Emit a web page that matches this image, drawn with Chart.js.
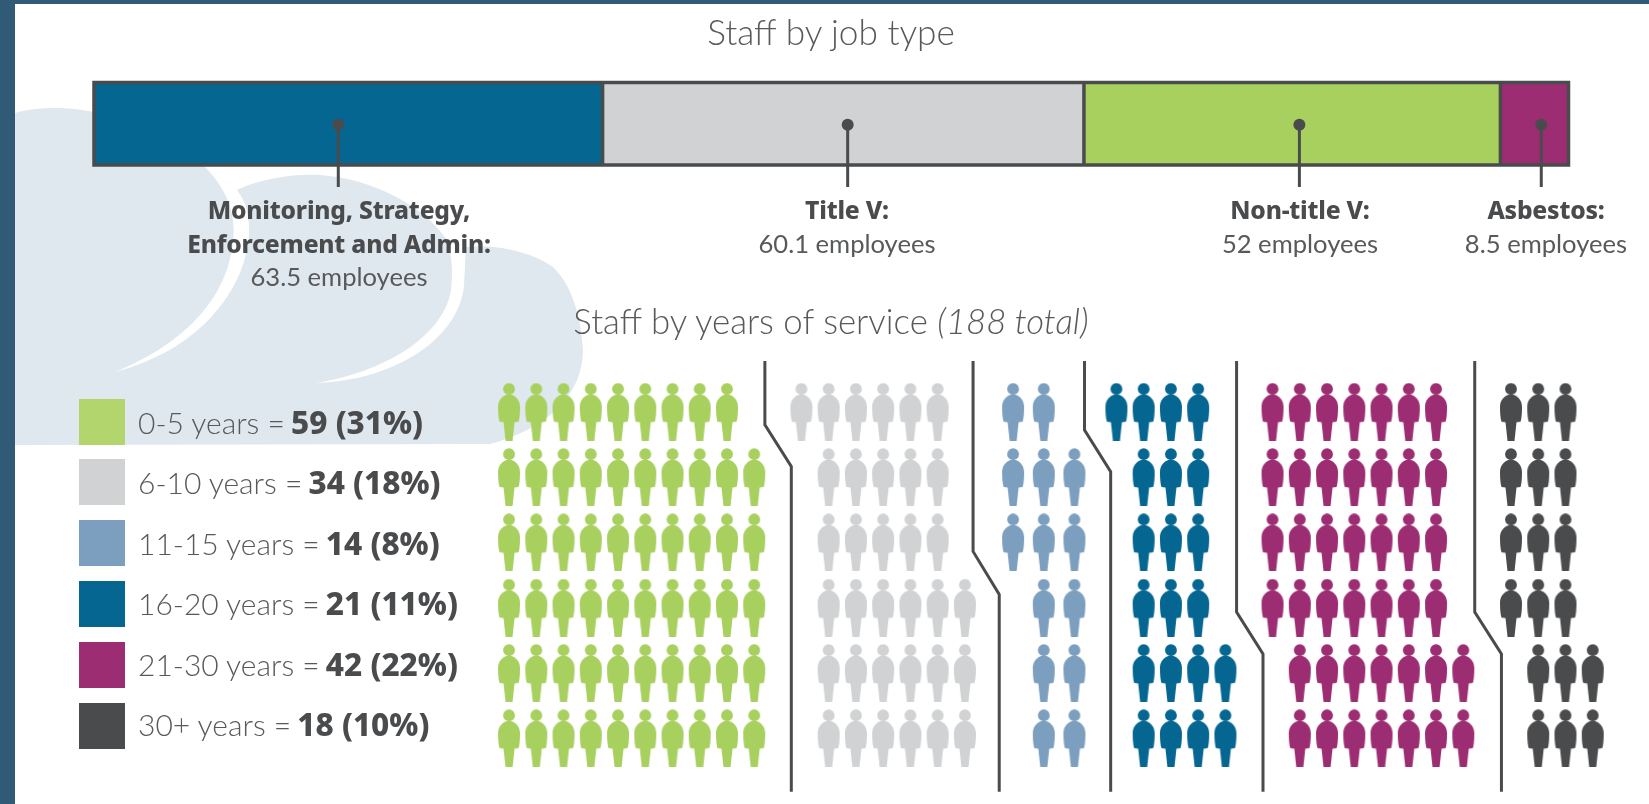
<!DOCTYPE html>
<html lang="en">
<head>
    <meta charset="UTF-8">
    <title>Staff by job type and years of service</title>
    <script src="https://cdn.jsdelivr.net/npm/chart.js"></script>
    <style>
        html, body { margin: 0; padding: 0; background: #305a75; overflow: hidden; }
        #page { position: absolute; left: 15px; top: 4px; width: 1634px; height: 800px; background: #fff; }
        #stage { position: absolute; left: 0; top: 0; width: 1649px; height: 804px; font-family: Lato, sans-serif; color: #58595b; filter: blur(0.4px); }
        #stage svg, #stage canvas { position: absolute; left: 0; top: 0; }
        .title { position: absolute; left: 0; width: 1662px; text-align: center; font-size: 35.2px; font-weight: 300; line-height: 40px; white-space: nowrap; }
        .job { position: absolute; transform: translateX(-50%); text-align: center; font-size: 25.6px; line-height: 33.5px; white-space: nowrap; }
        .job b { color: #4a4b4d; font-family: "Noto Sans", sans-serif; font-weight: 800; font-size: 24.6px; display: block; letter-spacing: -0.2px; }
        .swatch { position: absolute; left: 79px; width: 46px; height: 46px; }
        .legend-text { position: absolute; left: 138px; font-size: 30px; line-height: 46px; font-weight: 300; white-space: nowrap; }
        .legend-text b { color: #4a4b4d; font-family: "Noto Sans", sans-serif; font-weight: 800; font-size: 31.5px; margin-left: -2px; }
    </style>
</head>
<body>
<div id="page"></div>
<div id="stage">
    <!-- cloud behind everything -->
    <svg width="1649" height="804">
        <path fill="#e0e8ef" d="M15 113 C40 106 75 106 110 116 L205 167 L237 190 C262 178 300 172 330 176 C365 180 420 200 447 240 L466 247 C490 244 530 250 553 267 C572 285 581 317 583 350 C583 385 560 425 490 444 L15 445 Z"/>
        <path fill="#fff" d="M205 167 C228 190 236 215 233 240 C230 280 205 335 115 372 C200 350 245 290 249 235 C250 215 245 200 237 190 Z"/>
        <path fill="#fff" d="M447 240 C452 255 453 270 451 290 C445 330 395 370 316 383 C400 380 460 335 464 285 C465 270 465 258 466 247 Z"/>
    </svg>
    <canvas id="jobChart" width="1649" height="200"></canvas>
    <canvas id="serviceChart" width="1649" height="804"></canvas>
    <div class="title" style="top:10.5px">Staff by job type</div>
    <div class="title" style="top:301px; font-size:34.8px">Staff by years of service <i>(188 total)</i></div>
    <div id="jobLabels"></div>
    <div id="legend"></div>
</div>

<script>
    // job type bar
    const jobNames = [['Monitoring, Strategy,', 'Enforcement and Admin:'], ['Title V:'], ['Non-title V:'], ['Asbestos:']];
    const jobValues = [63.5, 60.1, 52, 8.5];
    const jobColors = ['#056692', '#d0d2d4', '#a8d05f', '#9d2d72'];
    const jobLeaderAt = [30.5, 94.1, 150.5, 180.7]; // where the pin sits on the bar, in employees
    const jobLabelCenters = [339, 847, 1300, 1546];

    // years of service
    const serviceNames = ['0-5 years', '6-10 years', '11-15 years', '16-20 years', '21-30 years', '30+ years'];
    const serviceCounts = [59, 34, 14, 21, 42, 18];
    const servicePercents = [31, 18, 8, 11, 22, 10];
    const serviceColors = ['#a8d05f', '#d0d2d4', '#7c9fbf', '#056692', '#9d2d72', '#4a4b4d'];
    const legendColors = ['#b2d56e', '#d0d2d4', '#7c9fbf', '#056692', '#9d2d72', '#4a4b4d'];

    // people per row, and where each row starts (columns from the group's first column)
    const rowCounts = [
        [9, 10, 10, 10, 10, 10],
        [6, 5, 5, 6, 6, 6],
        [2, 3, 3, 2, 2, 2],
        [4, 3, 3, 3, 4, 4],
        [7, 7, 7, 7, 7, 7],
        [3, 3, 3, 3, 3, 3]
    ];
    const rowStarts = [
        [0, 0, 0, 0, 0, 0],
        [0, 1, 1, 1, 1, 1],
        [0, 0, 0, 1, 1, 1],
        [0, 1, 1, 1, 1, 1],
        [0, 0, 0, 0, 1, 1],
        [0, 0, 0, 0, 1, 1]
    ];
    const firstColumns = [0, 10.73, 18.5, 22.29, 28.02, 36.77];
    const columnSteps = [1, 1, 1.125, 1, 1, 1];

    // dividers between groups, in grid units
    const dividerX = [[9.39, 9.39, 10.36, 10.36], [17.03, 17.03, 17.99, 17.99], [21.12, 21.12, 22.08, 22.08], [26.7, 26.7, 27.67, 27.67], [35.44, 35.44, 36.42, 36.42]];
    const dividerY = [[-0.776, 0.2, 0.84, 5.82], [-0.776, 2.14, 2.8, 5.82], [-0.776, 0.28, 0.92, 5.82], [-0.776, 3.07, 3.71, 5.82], [-0.776, 3.07, 3.71, 5.82]];

    const darkLine = '#4a4b4d';

    function personIcon(color) {
        const c = document.createElement('canvas');
        c.width = 24;
        c.height = 58;
        const g = c.getContext('2d');
        g.fillStyle = color;
        g.beginPath();
        g.arc(12, 6.2, 5.9, 0, Math.PI * 2);
        g.fill();
        g.beginPath();
        g.moveTo(12, 11.5);
        g.bezierCurveTo(17, 12, 23, 16, 23, 24);
        g.bezierCurveTo(23, 31, 22.5, 36, 21.5, 39);
        g.lineTo(17.5, 39.5);
        g.lineTo(15.5, 58);
        g.lineTo(8.5, 58);
        g.lineTo(6.5, 39.5);
        g.lineTo(2.5, 39);
        g.bezierCurveTo(1.5, 36, 1, 31, 1, 24);
        g.bezierCurveTo(1, 16, 7, 12, 12, 11.5);
        g.fill();
        return c;
    }

    // pins, frame and dividers on top of the bar
    const barFrame = {
        id: 'barFrame',
        afterDatasetsDraw(chart) {
            const { ctx, chartArea, scales } = chart;
            ctx.save();
            ctx.strokeStyle = darkLine;
            ctx.fillStyle = darkLine;
            ctx.lineWidth = 3.5;
            ctx.strokeRect(chartArea.left, chartArea.top, chartArea.right - chartArea.left, chartArea.bottom - chartArea.top);
            let sum = 0;
            jobValues.slice(0, -1).forEach(v => {
                sum += v;
                const x = scales.x.getPixelForValue(sum);
                ctx.beginPath();
                ctx.moveTo(x, chartArea.top);
                ctx.lineTo(x, chartArea.bottom);
                ctx.stroke();
            });
            ctx.lineWidth = 3;
            const midY = (chartArea.top + chartArea.bottom) / 2;
            jobLeaderAt.forEach(v => {
                const x = scales.x.getPixelForValue(v);
                ctx.beginPath();
                ctx.arc(x, midY + 1, 6, 0, Math.PI * 2);
                ctx.fill();
                ctx.beginPath();
                ctx.moveTo(x, midY + 1);
                ctx.lineTo(x, chartArea.bottom + 22);
                ctx.stroke();
            });
            ctx.restore();
        }
    };

    new Chart(document.getElementById('jobChart'), {
        type: 'bar',
        data: {
            labels: ['Staff'],
            datasets: jobValues.map((v, i) => ({ data: [v], backgroundColor: jobColors[i], barPercentage: 1, categoryPercentage: 1 }))
        },
        options: {
            indexAxis: 'y',
            responsive: false,
            animation: false,
            layout: { autoPadding: false, padding: { left: 94, right: 80.5, top: 82.5, bottom: 35 } },
            plugins: { legend: { display: false }, tooltip: { enabled: false } },
            scales: {
                x: { stacked: true, display: false, min: 0, max: 184.1 },
                y: { stacked: true, display: false }
            }
        },
        plugins: [barFrame]
    });

    const peopleSets = serviceColors.map((color, g) => {
        const pts = [];
        rowCounts[g].forEach((n, row) => {
            for (let k = 0; k < n; k++) {
                pts.push({ x: firstColumns[g] + (rowStarts[g][row] + k) * columnSteps[g], y: row });
            }
        });
        return { data: pts, pointStyle: personIcon(color), pointRadius: 12, showLine: false };
    });

    const dividerSets = dividerX.map((xs, d) => ({
        data: xs.map((x, i) => ({ x: x, y: dividerY[d][i] })),
        showLine: true,
        borderColor: darkLine,
        borderWidth: 3,
        pointRadius: 0,
        tension: 0
    }));

    new Chart(document.getElementById('serviceChart'), {
        type: 'scatter',
        data: { datasets: peopleSets.concat(dividerSets) },
        options: {
            responsive: false,
            animation: false,
            layout: { autoPadding: false, padding: 0 },
            plugins: { legend: { display: false }, tooltip: { enabled: false } },
            scales: {
                x: { display: false, min: -18.679, max: 41.835 },
                y: { display: false, reverse: true, min: -6.305, max: 6.008 }
            }
        }
    });

    // text under the bar
    const labelBox = document.getElementById('jobLabels');
    jobNames.forEach((lines, i) => {
        const d = document.createElement('div');
        d.className = 'job';
        d.style.left = jobLabelCenters[i] + 'px';
        d.style.top = '193px';
        d.innerHTML = lines.map(t => '<b>' + t + '</b>').join('') + jobValues[i] + ' employees';
        labelBox.appendChild(d);
    });

    // legend
    const legendBox = document.getElementById('legend');
    serviceNames.forEach((name, i) => {
        const s = document.createElement('div');
        s.className = 'swatch';
        s.style.top = (398.5 + i * 60.8) + 'px';
        s.style.background = legendColors[i];
        legendBox.appendChild(s);
        const t = document.createElement('div');
        t.className = 'legend-text';
        t.style.top = (399 + i * 60.4) + 'px';
        t.innerHTML = name + ' = <b>' + serviceCounts[i] + ' (' + servicePercents[i] + '%)</b>';
        legendBox.appendChild(t);
    });
</script>
</body>
</html>
